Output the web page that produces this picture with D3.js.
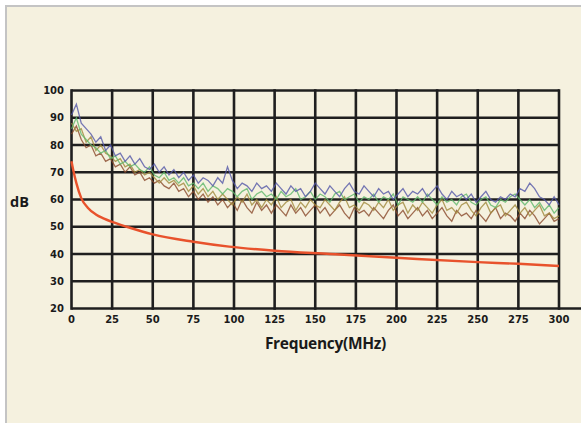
<!DOCTYPE html>
<html><head><meta charset="utf-8">
<script src="https://cdn.jsdelivr.net/npm/d3@7/dist/d3.min.js"></script>
<style>html,body{margin:0;padding:0;background:#fff;}svg{display:block;}</style>
</head><body>
<script>
const xTicks = [0,25,50,75,100,125,150,175,200,225,250,275,300];
const yTicks = [20,30,40,50,60,70,80,90,100];
const freqStep = 3; // MHz between noisy samples
const seriesBlue = [91,95,88,86,84,81,83,78,80,76,77,
 74,76,73,75,72,71,73,70,72,69,
 71,68,70,67,69,66,68,67,65,68,
 66,72,67,64,66,65,63,66,64,65,
 63,66,64,62,65,63,64,61,63,66,
 64,62,65,63,61,64,66,63,62,65,
 63,61,64,62,63,60,62,64,61,63,
 62,64,61,63,65,62,60,63,61,62,
 60,62,59,61,63,60,59,61,60,62,
 61,64,63,66,64,61,60,58,61,58];
const seriesGreen = [86,90,84,82,80,79,77,78,75,76,73,
 74,72,73,71,70,72,69,68,70,67,
 68,66,68,65,66,64,66,63,65,64,
 62,64,63,61,63,64,60,62,63,61,
 62,60,63,61,62,64,60,61,63,60,
 62,61,59,62,63,60,61,62,59,61,
 60,62,59,61,60,62,58,61,60,59,
 61,59,62,60,58,61,59,60,58,61,
 62,59,58,60,61,58,57,60,59,61,
 62,60,58,60,57,59,56,58,55,57];
const seriesBrown = [84,87,82,79,80,76,77,74,75,72,73,
 70,72,69,70,67,68,66,67,65,64,
 66,63,64,61,63,60,62,59,61,58,
 60,57,59,56,60,57,55,59,56,58,
 55,58,56,54,58,55,57,54,56,58,
 55,57,54,56,58,55,53,57,55,56,
 54,57,55,53,56,58,54,56,53,55,
 57,54,56,53,55,57,54,52,56,54,
 55,53,56,54,52,55,57,53,55,54,
 52,55,53,56,54,51,53,55,52,53];
const seriesOlive = [88,85,86,81,83,78,80,77,76,74,75,
 72,73,70,71,69,70,68,66,68,66,
 67,65,66,63,65,62,64,61,63,60,
 62,60,58,61,59,62,58,60,57,60,
 58,61,57,59,60,56,59,57,60,58,
 57,60,58,56,59,61,57,58,56,59,
 58,56,59,57,60,56,58,59,55,58,
 56,59,57,55,58,60,56,57,55,58,
 59,56,54,57,59,55,57,58,54,56,
 58,55,57,54,56,58,54,55,53,54];
const limitFreq = [0,1,3,6,10,15,20,25,34,50,75,97,125,159,200,250,275,300];
const limitDb   = [74,71,66,60.5,57,54.5,53,51.8,50,47.2,44.5,42.7,41.2,40,38.6,37,36.4,35.6];

const W = 581, H = 423;
const svg = d3.select("body").append("svg").attr("width", W).attr("height", H);
svg.append("rect").attr("x",0).attr("y",0).attr("width",W).attr("height",H).attr("fill","#fff");
svg.append("rect").attr("x",6).attr("y",6).attr("width",W).attr("height",H).attr("fill","#f5f1df")
  .attr("stroke","#c4c4c4").attr("stroke-width",2);

const x = d3.scaleLinear().domain([0,300]).range([71.5,559]);
const y = d3.scaleLinear().domain([20,100]).range([308.5,90.5]);

const grid = svg.append("g").attr("stroke","#1f1f1f").attr("stroke-width",2.6);
grid.selectAll("line.h").data(yTicks).join("line").attr("class","h")
  .attr("x1",x(0)).attr("x2",d=>d===20?W:x(300)).attr("y1",d=>y(d)).attr("y2",d=>y(d));
grid.selectAll("line.v").data(xTicks).join("line").attr("class","v")
  .attr("x1",d=>x(d)).attr("x2",d=>x(d)).attr("y1",y(100)-1.3).attr("y2",y(20)+1.3);

const series = [
  {vals: seriesBrown, color:"#8a4a2c"},
  {vals: seriesOlive, color:"#a08a3c"},
  {vals: seriesGreen, color:"#5fb86a"},
  {vals: seriesBlue,  color:"#5458a8"}
];
const line = d3.line().x((d,i)=>x(i*freqStep)).y(d=>y(d));
series.forEach(s=>{
  svg.append("path").datum(s.vals).attr("d",line).attr("fill","none")
    .attr("stroke",s.color).attr("stroke-width",1.3).attr("stroke-opacity",0.8);
});
const redLine = d3.line().x(d=>x(d[0])).y(d=>y(d[1])).curve(d3.curveMonotoneX);
svg.append("path").datum(limitFreq.map((f,i)=>[f,limitDb[i]])).attr("d",redLine)
  .attr("fill","none").attr("stroke","#e8522c").attr("stroke-width",2.4);

const font = "'DejaVu Sans', sans-serif";
svg.append("g").selectAll("text").data(yTicks).join("text")
  .attr("x",64).attr("y",d=>y(d)).attr("dy","0.35em").attr("text-anchor","end")
  .attr("font-family",font).attr("font-weight","bold").attr("font-size",10).attr("fill","#1a1a1a")
  .text(d=>d);
svg.append("g").selectAll("text").data(xTicks).join("text")
  .attr("x",d=>x(d)).attr("y",319).attr("dy","0.35em").attr("text-anchor","middle")
  .attr("font-family",font).attr("font-weight","bold").attr("font-size",10).attr("fill","#1a1a1a")
  .text(d=>d);
svg.append("text").attr("x",325.5).attr("y",349).attr("text-anchor","middle")
  .attr("font-family","'Open Sans', sans-serif").attr("font-weight","bold").attr("font-size",15.5)
  .attr("letter-spacing",-0.3).attr("fill","#1a1a1a").text("Frequency(MHz)");
svg.append("text").attr("x",10).attr("y",207)
  .attr("font-family","'Open Sans', sans-serif").attr("font-weight","bold").attr("font-size",14.5)
  .attr("fill","#1a1a1a").text("dB");
</script>
</body></html>
